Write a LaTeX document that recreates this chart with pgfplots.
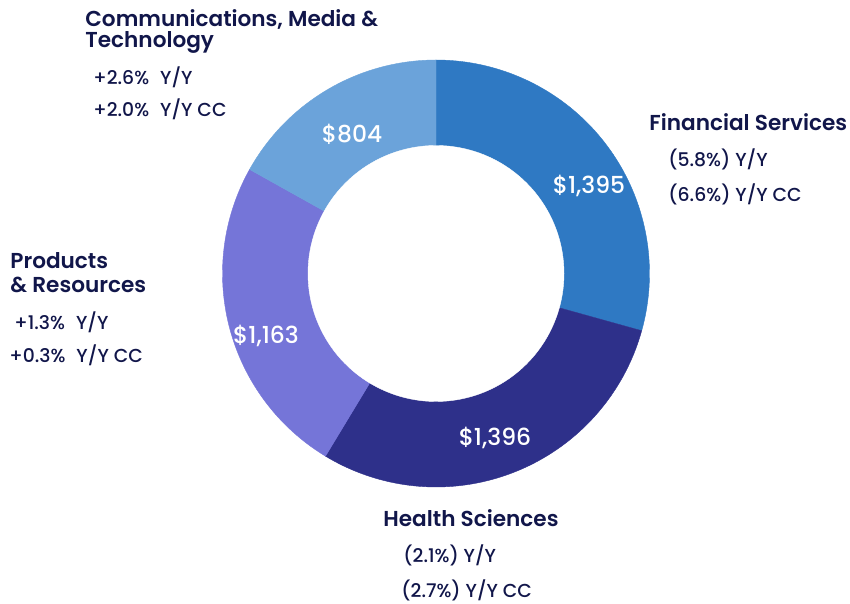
\documentclass[border=0pt]{standalone}
\usepackage{pgfplots}
\pgfplotsset{compat=1.18}
\usepackage{pgfplotstable}
\usepackage{fontspec}
\setmainfont{Poppins}
\newfontfamily\pmed{Poppins Medium}
\newfontfamily\psemi{Poppins SemiBold}
\definecolor{cFS}{HTML}{2F79C3}
\definecolor{cHS}{HTML}{2E308A}
\definecolor{cPR}{HTML}{7575D8}
\definecolor{cCMT}{HTML}{6BA3DA}
\definecolor{navy}{HTML}{11164A}
\pgfplotstableread{
seg value
FS 1395
HS 1396
PR 1163
CMT 804
}\segs
\newcommand\lab{\fontsize{10.8}{13}\selectfont\psemi}
\newcommand\sub{\fontsize{9.4}{11}\selectfont\pmed}
\newcommand\val{\fontsize{11.7}{14}\selectfont\pmed}
\newcommand\gap{\hspace{5.5pt}}
\begin{document}
\begin{tikzpicture}
\pgfplotstablegetelem{0}{value}\of\segs \let\vA\pgfplotsretval
\pgfplotstablegetelem{1}{value}\of\segs \let\vB\pgfplotsretval
\pgfplotstablegetelem{2}{value}\of\segs \let\vC\pgfplotsretval
\pgfplotstablegetelem{3}{value}\of\segs \let\vD\pgfplotsretval
\pgfmathsetmacro\tot{(\vA+\vB+\vC+\vD)/100}
\pgfmathsetmacro\aA{90}
\pgfmathsetmacro\aB{90-3.6*(\vA/\tot)}
\pgfmathsetmacro\aC{\aB-3.6*(\vB/\tot)}
\pgfmathsetmacro\aD{\aC-3.6*(\vC/\tot)}
\pgfmathsetmacro\aE{\aD-3.6*(\vD/\tot)}
\begin{axis}[width=425pt,height=302pt,scale only axis,
  xmin=0,xmax=850,ymin=0,ymax=604,hide axis,clip=false]
\path (rel axis cs:0,0) rectangle (rel axis cs:1,1);
\addplot[fill=cFS,draw=cFS,line width=0.2pt,domain=\aB:\aA,samples=80,variable=\t]
  ({436+213.5*cos(\t)},{330.5+213.5*sin(\t)}) -- (axis cs:436,330.5) -- cycle;
\addplot[fill=cHS,draw=cHS,line width=0.2pt,domain=\aC:\aB,samples=80,variable=\t]
  ({436+213.5*cos(\t)},{330.5+213.5*sin(\t)}) -- (axis cs:436,330.5) -- cycle;
\addplot[fill=cPR,draw=cPR,line width=0.2pt,domain=\aD:\aC,samples=80,variable=\t]
  ({436+213.5*cos(\t)},{330.5+213.5*sin(\t)}) -- (axis cs:436,330.5) -- cycle;
\addplot[fill=cCMT,draw=cCMT,line width=0.2pt,domain=\aE:\aD,samples=80,variable=\t]
  ({436+213.5*cos(\t)},{330.5+213.5*sin(\t)}) -- (axis cs:436,330.5) -- cycle;
\addplot[fill=white,draw=white,line width=0.2pt,domain=0:360,samples=160,variable=\t]
  ({436+128*cos(\t)},{330.5+128*sin(\t)}) -- cycle;
% values
\node[text=white,font=\val] at (axis cs:352,470) {\$804};
\node[text=white,font=\val] at (axis cs:589,418) {\$1,395};
\node[text=white,font=\val] at (axis cs:495,166) {\$1,396};
\node[text=white,font=\val] at (axis cs:266,268) {\$1,163};
% labels
\node[anchor=base west,inner sep=0pt,text=navy,font=\lab] at (axis cs:85,577) {Communications, Media \&};
\node[anchor=base west,inner sep=0pt,text=navy,font=\lab] at (axis cs:85,556) {Technology};
\node[anchor=base west,inner sep=0pt,text=navy,font=\sub] at (axis cs:93,519) {+2.6\%\gap Y/Y};
\node[anchor=base west,inner sep=0pt,text=navy,font=\sub] at (axis cs:93,487) {+2.0\%\gap Y/Y CC};
\node[anchor=base west,inner sep=0pt,text=navy,font=\lab] at (axis cs:649,473) {Financial Services};
\node[anchor=base west,inner sep=0pt,text=navy,font=\sub] at (axis cs:668,437) {(5.8\%) Y/Y};
\node[anchor=base west,inner sep=0pt,text=navy,font=\sub] at (axis cs:668,402) {(6.6\%) Y/Y CC};
\node[anchor=base west,inner sep=0pt,text=navy,font=\lab] at (axis cs:10,335) {Products};
\node[anchor=base west,inner sep=0pt,text=navy,font=\lab] at (axis cs:10,311) {\& Resources};
\node[anchor=base west,inner sep=0pt,text=navy,font=\sub] at (axis cs:14,274) {+1.3\%\gap Y/Y};
\node[anchor=base west,inner sep=0pt,text=navy,font=\sub] at (axis cs:9,241) {+0.3\%\gap Y/Y CC};
\node[anchor=base west,inner sep=0pt,text=navy,font=\lab] at (axis cs:383,77) {Health Sciences};
\node[anchor=base west,inner sep=0pt,text=navy,font=\sub] at (axis cs:403,41) {(2.1\%) Y/Y};
\node[anchor=base west,inner sep=0pt,text=navy,font=\sub] at (axis cs:401,6) {(2.7\%) Y/Y CC};
\end{axis}
\end{tikzpicture}
\end{document}
